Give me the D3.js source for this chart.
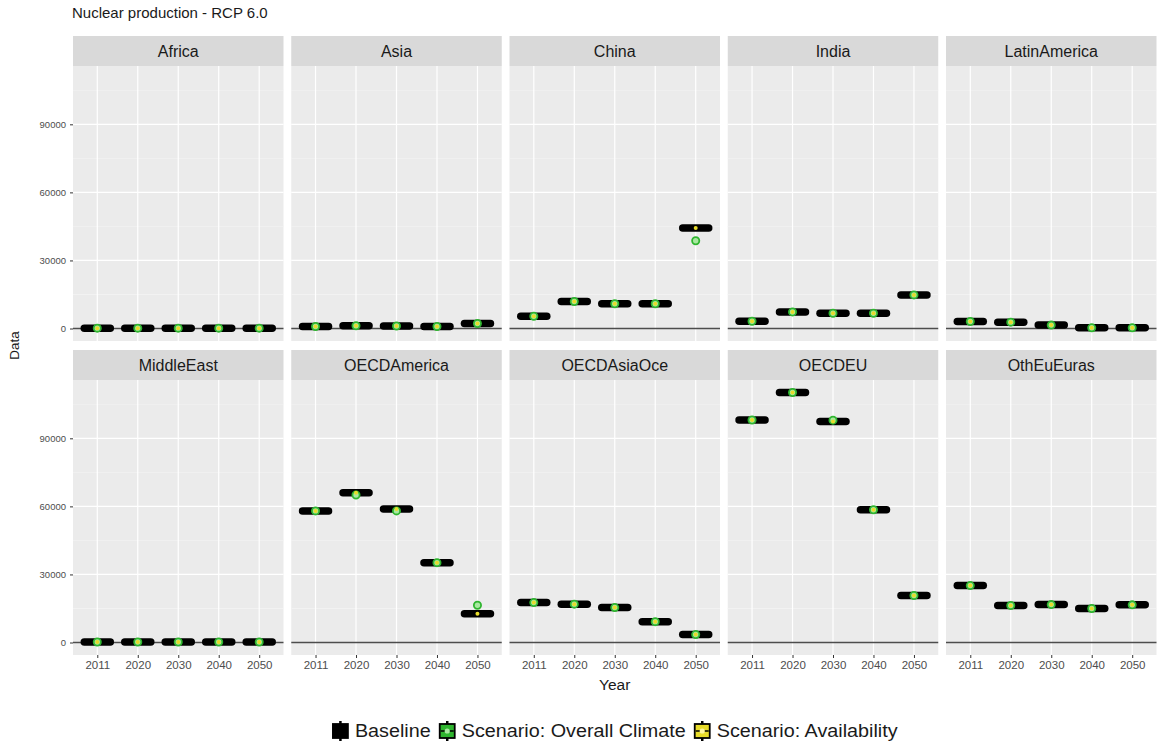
<!DOCTYPE html>
<html>
<head>
<meta charset="utf-8">
<script src="https://cdn.jsdelivr.net/npm/d3@7"></script>
<style>
  html, body { margin: 0; padding: 0; background: #ffffff; }
  svg text { font-family: "Liberation Sans", Arial, sans-serif; }
</style>
</head>
<body>
<svg id="chart" width="1157" height="744"></svg>
<script>
// Nuclear production by region, RCP 6.0
const regions = ["Africa", "Asia", "China", "India", "LatinAmerica",
                 "MiddleEast", "OECDAmerica", "OECDAsiaOce", "OECDEU", "OthEuEuras"];
const years = ["2011", "2020", "2030", "2040", "2050"];

// Baseline values per region (same order as years)
const baseline = [
  [150, 150, 150, 150, 150],
  [900, 1200, 1100, 900, 2200],
  [5400, 11900, 10900, 10900, 44300],
  [3200, 7300, 6700, 6700, 14800],
  [3100, 2800, 1500, 300, 300],
  [200, 200, 200, 200, 200],
  [58000, 66000, 58800, 35200, 12700],
  [17600, 16900, 15400, 9200, 3500],
  [98100, 110200, 97400, 58500, 20700],
  [25100, 16300, 16700, 15000, 16600]
];
// Scenario: Overall Climate
const overallClimate = [
  [150, 150, 150, 150, 150],
  [900, 1200, 1100, 900, 2200],
  [5400, 11900, 10900, 10900, 38700],
  [3200, 7300, 6700, 6700, 14800],
  [3100, 2800, 1500, 300, 300],
  [200, 200, 200, 200, 200],
  [58000, 65000, 58000, 35200, 16400],
  [17600, 16900, 15400, 9200, 3500],
  [98100, 110200, 98000, 58500, 20700],
  [25100, 16300, 16700, 15000, 16600]
];
// Scenario: Availability
const availability = [
  [150, 150, 150, 150, 150],
  [900, 1200, 1100, 900, 2200],
  [5400, 11900, 10900, 10900, 44300],
  [3200, 7300, 6700, 6700, 14800],
  [3100, 2800, 1500, 300, 300],
  [200, 200, 200, 200, 200],
  [58000, 66000, 58800, 35200, 12700],
  [17600, 16900, 15400, 9200, 3500],
  [98100, 110200, 97400, 58500, 20700],
  [25100, 16300, 16700, 15000, 16600]
];
const yTicks = [0, 30000, 60000, 90000];
const yMinor = [15000, 45000, 75000, 105000];

const seriesNames = ["Baseline", "Scenario: Overall Climate", "Scenario: Availability"];
const seriesColors = ["#000000", "#2fb52f", "#e8dc2a"];

// layout
const svg = d3.select("#chart");
const left0 = 73, colStep = 218.25, pw = 210.5;
const stripH = 30, ph = 275;
const rowTop = [36, 350];
const cols = 5;

const allVals = baseline.flat().concat(overallClimate.flat(), availability.flat());
const vmax = d3.max(allVals), vmin = 0;
const pad = (vmax - vmin) * 0.05;
const y = d3.scaleLinear().domain([vmin - pad, vmax + pad]).range([ph, 0]);
const x = d3.scalePoint().domain(years).range([0, pw]).padding(0.6);

// title
svg.append("text").attr("x", 72).attr("y", 18)
  .attr("font-size", 15).attr("fill", "#1a1a1a")
  .text("Nuclear production - RCP 6.0");

regions.forEach((reg, i) => {
  const c = i % cols, r = Math.floor(i / cols);
  const gx = left0 + c * colStep;
  const gy = rowTop[r];
  const g = svg.append("g").attr("transform", `translate(${gx},${gy})`);

  // strip
  g.append("rect").attr("width", pw).attr("height", stripH).attr("fill", "#d9d9d9");
  g.append("text").attr("x", pw / 2).attr("y", stripH / 2 + 5.5)
    .attr("text-anchor", "middle").attr("font-size", 16).attr("fill", "#1a1a1a")
    .text(reg);

  const p = g.append("g").attr("transform", `translate(0,${stripH})`);
  p.append("rect").attr("width", pw).attr("height", ph).attr("fill", "#ebebeb");

  // grid
  p.selectAll(".ymin").data(yMinor).join("line")
    .attr("x1", 0).attr("x2", pw).attr("y1", d => y(d)).attr("y2", d => y(d))
    .attr("stroke", "#f5f5f5").attr("stroke-width", 0.6);
  p.selectAll(".ymaj").data(yTicks).join("line")
    .attr("x1", 0).attr("x2", pw).attr("y1", d => y(d)).attr("y2", d => y(d))
    .attr("stroke", "#ffffff").attr("stroke-width", 1.2);
  p.selectAll(".xmaj").data(years).join("line")
    .attr("x1", d => x(d)).attr("x2", d => x(d)).attr("y1", 0).attr("y2", ph)
    .attr("stroke", "#ffffff").attr("stroke-width", 1.2);

  // zero reference line
  p.append("line").attr("x1", 0).attr("x2", pw).attr("y1", y(0)).attr("y2", y(0))
    .attr("stroke", "#4d4d4d").attr("stroke-width", 1.6);

  // baseline: collapsed boxplots drawn as thick bars
  p.selectAll(".base").data(years).join("line")
    .attr("x1", d => x(d) - 13).attr("x2", d => x(d) + 13)
    .attr("y1", (d, j) => y(baseline[i][j])).attr("y2", (d, j) => y(baseline[i][j]))
    .attr("stroke", "#000000").attr("stroke-width", 7.5).attr("stroke-linecap", "round");

  // overall climate scenario
  p.selectAll(".clim").data(years).join("circle")
    .attr("cx", d => x(d)).attr("cy", (d, j) => y(overallClimate[i][j]))
    .attr("r", 3.6).attr("fill", "#a8e8a0").attr("stroke", seriesColors[1]).attr("stroke-width", 1.8);

  // availability scenario
  p.selectAll(".avail").data(years).join("circle")
    .attr("cx", d => x(d)).attr("cy", (d, j) => y(availability[i][j]))
    .attr("r", 2).attr("fill", seriesColors[2]);

  // y axis on the first column
  if (c === 0) {
    const ax = p.append("g").call(d3.axisLeft(y).tickValues(yTicks).tickSize(3).tickPadding(4).tickFormat(d3.format("d")));
    ax.select(".domain").remove();
    ax.selectAll("line").attr("stroke", "#333333");
    ax.selectAll("text").attr("font-size", 9.5).attr("fill", "#4d4d4d")
      .style("font-family", "'Liberation Sans', Arial, sans-serif");
  }
  // x axis on the bottom row
  if (r === 1) {
    const ax = p.append("g").attr("transform", `translate(0,${ph})`)
      .call(d3.axisBottom(x).tickSize(3).tickPadding(3));
    ax.select(".domain").remove();
    ax.selectAll("line").attr("stroke", "#333333");
    ax.selectAll("text").attr("font-size", 11.5).attr("fill", "#4d4d4d")
      .style("font-family", "'Liberation Sans', Arial, sans-serif");
  }
});

// axis titles
const plotRight = left0 + 4 * colStep + pw;
svg.append("text").attr("x", (left0 + plotRight) / 2).attr("y", 690)
  .attr("text-anchor", "middle").attr("font-size", 15.5).attr("fill", "#1a1a1a").text("Year");
svg.append("text")
  .attr("transform", `translate(19,${(rowTop[0] + rowTop[1] + stripH + ph) / 2}) rotate(-90)`)
  .attr("text-anchor", "middle").attr("font-size", 13.5).attr("fill", "#1a1a1a").text("Data");

// legend
const legend = svg.append("g").attr("transform", "translate(0,731)");
const keyW = 17, gapKT = 6, gapItems = 8;
const legendFont = 17.5, legendStretch = 1.13;
let lx = 0;
const items = legend.selectAll("g.item").data(seriesNames).join("g").attr("class", "item");
items.each(function (d, k) {
  const it = d3.select(this);
  const key = it.append("g");
  key.append("line").attr("x1", keyW / 2).attr("x2", keyW / 2).attr("y1", -10).attr("y2", 10)
    .attr("stroke", "#000").attr("stroke-width", 2.5);
  key.append("rect").attr("x", 1).attr("y", -7).attr("width", keyW - 2).attr("height", 14)
    .attr("fill", seriesColors[k]).attr("stroke", "#000").attr("stroke-width", 1.8);
  if (k > 0) {
    key.append("line").attr("x1", 2).attr("x2", keyW - 2).attr("y1", 0).attr("y2", 0)
      .attr("stroke", "#000").attr("stroke-width", 1.5);
    key.append("circle").attr("cx", keyW / 2).attr("cy", 0).attr("r", 2.6)
      .attr("fill", k === 1 ? "#a8e8a0" : "#fff7a0");
  }
  const t = it.append("text")
    .attr("transform", `translate(${keyW + gapKT},6) scale(${legendStretch},1)`)
    .attr("font-size", legendFont).attr("fill", "#1a1a1a").text(d);
  const w = t.node().getComputedTextLength() * legendStretch;
  it.attr("transform", `translate(${lx},0)`);
  lx += keyW + gapKT + w + gapItems;
});
const totalW = lx - gapItems;
legend.attr("transform", `translate(${(left0 + plotRight) / 2 - totalW / 2},731)`);
</script>
</body>
</html>
